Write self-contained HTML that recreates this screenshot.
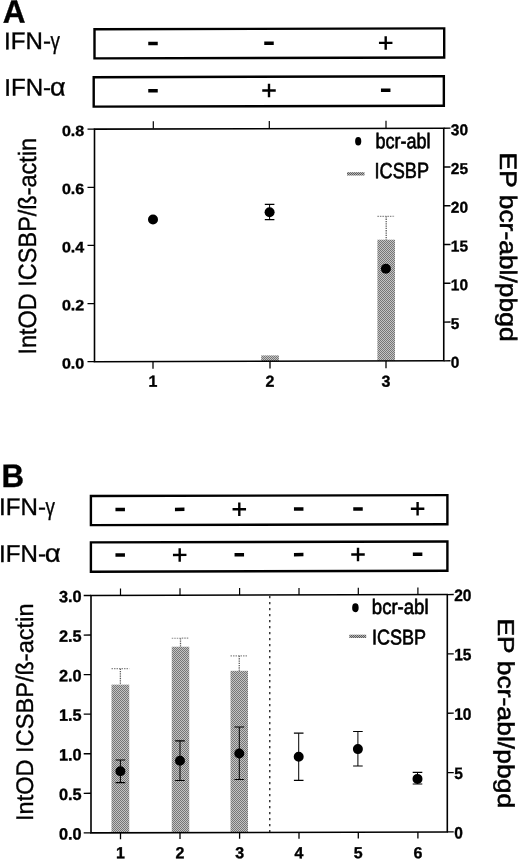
<!DOCTYPE html><html><head><meta charset="utf-8"><title>Figure</title><style>html,body{margin:0;padding:0;background:#fff}svg{display:block}text{font-family:"Liberation Sans",sans-serif;fill:#000;stroke:#000;stroke-width:.35px}.b{font-weight:bold}.l{stroke-width:.65px}.r{stroke-width:.55px}</style></head><body>
<svg width="520" height="860" viewBox="0 0 520 860">
<defs><pattern id="h" width="2" height="2" patternUnits="userSpaceOnUse"><rect width="2" height="2" fill="#c4c4c4"/><rect width="1" height="1" fill="#767676"/><rect x="1" y="1" width="1" height="1" fill="#767676"/></pattern><pattern id="h2" width="2" height="2" patternUnits="userSpaceOnUse"><rect width="2" height="2" fill="#b4b4b4"/><rect width="1" height="1" fill="#5c5c5c"/><rect x="1" y="1" width="1" height="1" fill="#5c5c5c"/></pattern></defs>
<rect width="520" height="860" fill="#fff"/>
<rect x="261.2" y="355.39" width="17.7" height="5.8" fill="url(#h)"/>
<rect x="377.4" y="239.69" width="17.6" height="121.2" fill="url(#h)"/>
<rect x="347" y="172.2" width="17.5" height="3.3" fill="url(#h2)"/>
<rect x="111.5" y="684.63" width="17.75" height="148.15" fill="url(#h)"/>
<rect x="171.75" y="646.73" width="17.5" height="185.9" fill="url(#h)"/>
<rect x="230.5" y="670.82" width="17.5" height="161.65" fill="url(#h)"/>
<rect x="349.3" y="634.7" width="16.9" height="3.3" fill="url(#h2)"/>
<g transform="translate(0,0.7) skewY(-0.15)">
<text x="2.7" y="22.01" font-size="32.5" class="b" textLength="22.8" lengthAdjust="spacingAndGlyphs">A</text>
<text y="48.46" font-size="24.1"><tspan x="4.1">IFN-</tspan><tspan x="50.59" font-size="24.1" textLength="9.43" lengthAdjust="spacingAndGlyphs">γ</tspan></text>
<text y="94.96" font-size="24.1"><tspan x="4.25">IFN-</tspan><tspan x="50.07" font-size="25.2" textLength="15.61" lengthAdjust="spacingAndGlyphs">α</tspan></text>
<rect x="94.5" y="28.8" width="349.7" height="29.1" fill="none" stroke="#000" stroke-width="2.4"/>
<rect x="93.7" y="76.75" width="350.15" height="29.45" fill="none" stroke="#000" stroke-width="2.4"/>
<rect x="148.25" y="41.45" width="9.5" height="3.5" fill="#000"/>
<rect x="264.25" y="41.45" width="9.5" height="3.5" fill="#000"/>
<rect x="378.95" y="42" width="13.5" height="2.4" fill="#000"/><rect x="384.5" y="36.45" width="2.4" height="13.5" fill="#000"/>
<rect x="148.25" y="88.75" width="9.5" height="3.5" fill="#000"/>
<rect x="262.25" y="89.3" width="13.5" height="2.4" fill="#000"/><rect x="267.8" y="83.75" width="2.4" height="13.5" fill="#000"/>
<rect x="380.95" y="88.75" width="9.5" height="3.5" fill="#000"/>
<line x1="153.3" y1="121" x2="153.3" y2="128.3" stroke="#000" stroke-width="1.2" />
<line x1="269.3" y1="121" x2="269.3" y2="128.3" stroke="#000" stroke-width="1.2" />
<line x1="386" y1="121" x2="386" y2="128.3" stroke="#000" stroke-width="1.2" />
<line x1="386.2" y1="216.6" x2="386.2" y2="240" stroke="#5a5a5a" stroke-width="1.3" stroke-dasharray="1.3 1"/>
<line x1="377.4" y1="216.6" x2="395" y2="216.6" stroke="#8a8a8a" stroke-width="1.2" stroke-dasharray="1.5 1"/>
<rect x="94.5" y="128.7" width="349.25" height="232.55" fill="none" stroke="#000" stroke-width="1.6"/>
<line x1="87.5" y1="128.7" x2="94.5" y2="128.7" stroke="#000" stroke-width="1.3" />
<text x="84.2" y="135.4" font-size="14.8" class="b" text-anchor="end" textLength="22.3" lengthAdjust="spacingAndGlyphs">0.8</text>
<line x1="87.5" y1="186.84" x2="94.5" y2="186.84" stroke="#000" stroke-width="1.3" />
<text x="84.2" y="193.54" font-size="14.8" class="b" text-anchor="end" textLength="22.3" lengthAdjust="spacingAndGlyphs">0.6</text>
<line x1="87.5" y1="244.97" x2="94.5" y2="244.97" stroke="#000" stroke-width="1.3" />
<text x="84.2" y="251.67" font-size="14.8" class="b" text-anchor="end" textLength="22.3" lengthAdjust="spacingAndGlyphs">0.4</text>
<line x1="87.5" y1="303.11" x2="94.5" y2="303.11" stroke="#000" stroke-width="1.3" />
<text x="84.2" y="309.81" font-size="14.8" class="b" text-anchor="end" textLength="22.3" lengthAdjust="spacingAndGlyphs">0.2</text>
<line x1="87.5" y1="361.25" x2="94.5" y2="361.25" stroke="#000" stroke-width="1.3" />
<text x="84.2" y="367.95" font-size="14.8" class="b" text-anchor="end" textLength="22.3" lengthAdjust="spacingAndGlyphs">0.0</text>
<line x1="443.75" y1="128.7" x2="450.5" y2="128.7" stroke="#000" stroke-width="1.3" />
<text x="450.8" y="135.8" font-size="15.7" class="b" textLength="17.2" lengthAdjust="spacingAndGlyphs">30</text>
<line x1="443.75" y1="167.46" x2="450.5" y2="167.46" stroke="#000" stroke-width="1.3" />
<text x="450.8" y="174.56" font-size="15.7" class="b" textLength="17.2" lengthAdjust="spacingAndGlyphs">25</text>
<line x1="443.75" y1="206.22" x2="450.5" y2="206.22" stroke="#000" stroke-width="1.3" />
<text x="450.8" y="213.32" font-size="15.7" class="b" textLength="17.2" lengthAdjust="spacingAndGlyphs">20</text>
<line x1="443.75" y1="244.98" x2="450.5" y2="244.98" stroke="#000" stroke-width="1.3" />
<text x="450.8" y="252.08" font-size="15.7" class="b" textLength="17.2" lengthAdjust="spacingAndGlyphs">15</text>
<line x1="443.75" y1="283.73" x2="450.5" y2="283.73" stroke="#000" stroke-width="1.3" />
<text x="450.8" y="290.83" font-size="15.7" class="b" textLength="17.2" lengthAdjust="spacingAndGlyphs">10</text>
<line x1="443.75" y1="322.49" x2="450.5" y2="322.49" stroke="#000" stroke-width="1.3" />
<text x="450.8" y="329.59" font-size="15.7" class="b" textLength="8.6" lengthAdjust="spacingAndGlyphs">5</text>
<line x1="443.75" y1="361.25" x2="450.5" y2="361.25" stroke="#000" stroke-width="1.3" />
<text x="450.8" y="368.35" font-size="15.7" class="b" textLength="8.6" lengthAdjust="spacingAndGlyphs">0</text>
<line x1="153" y1="361.25" x2="153" y2="368.5" stroke="#000" stroke-width="1.3" />
<text x="153" y="386.4" font-size="16" class="b" text-anchor="middle">1</text>
<line x1="270" y1="361.25" x2="270" y2="368.5" stroke="#000" stroke-width="1.3" />
<text x="270" y="386.71" font-size="16" class="b" text-anchor="middle">2</text>
<line x1="386" y1="361.25" x2="386" y2="368.5" stroke="#000" stroke-width="1.3" />
<text x="386" y="387.01" font-size="16" class="b" text-anchor="middle">3</text>
<circle cx="153" cy="219.2" r="5" fill="#000"/>
<line x1="269.6" y1="204.41" x2="269.6" y2="219.66" stroke="#000" stroke-width="1" />
<line x1="264.8" y1="204.41" x2="274.4" y2="204.41" stroke="#000" stroke-width="1.2" />
<line x1="264.8" y1="219.66" x2="274.4" y2="219.66" stroke="#000" stroke-width="1.2" />
<circle cx="269.6" cy="212.31" r="5" fill="#000"/>
<circle cx="385.9" cy="269.11" r="5" fill="#000"/>
<ellipse cx="358.2" cy="141.5" rx="3.1" ry="4.25" fill="#000"/>
<text x="375.4" y="148.58" font-size="21.3" class="l" textLength="55.2" lengthAdjust="spacingAndGlyphs">bcr-abl</text>
<text x="374.5" y="178.48" font-size="22" class="l" textLength="54.5" lengthAdjust="spacingAndGlyphs">ICSBP</text>
<text x="35.9" y="353.99" font-size="25" textLength="216.8" lengthAdjust="spacingAndGlyphs" transform="rotate(-90 35.9 353.99)">IntOD ICSBP/ß-actin</text>
<text x="500.1" y="153.21" font-size="23.8" class="r" textLength="189" lengthAdjust="spacingAndGlyphs" transform="rotate(90 500.1 153.21)">EP bcr-abl/pbgd</text>
<text x="1.4" y="486.2" font-size="32.5" class="b" textLength="22.6" lengthAdjust="spacingAndGlyphs">B</text>
<text y="514.4" font-size="24.1"><tspan x="-0.9">IFN-</tspan><tspan x="45.59" font-size="24.1" textLength="9.43" lengthAdjust="spacingAndGlyphs">γ</tspan></text>
<text y="561.2" font-size="24.1"><tspan x="-0.9">IFN-</tspan><tspan x="44.74" font-size="25.2" textLength="15.95" lengthAdjust="spacingAndGlyphs">α</tspan></text>
<rect x="90.9" y="495.55" width="356.5" height="29.1" fill="none" stroke="#000" stroke-width="2.4"/>
<rect x="90.9" y="541.95" width="356.5" height="29.3" fill="none" stroke="#000" stroke-width="2.4"/>
<rect x="115.45" y="507.4" width="9.5" height="3.5" fill="#000"/>
<rect x="174.95" y="507.4" width="9.5" height="3.5" fill="#000"/>
<rect x="232.55" y="507.95" width="13.5" height="2.4" fill="#000"/><rect x="238.1" y="502.4" width="2.4" height="13.5" fill="#000"/>
<rect x="293.95" y="507.4" width="9.5" height="3.5" fill="#000"/>
<rect x="353.25" y="507.4" width="9.5" height="3.5" fill="#000"/>
<rect x="410.85" y="507.95" width="13.5" height="2.4" fill="#000"/><rect x="416.4" y="502.4" width="2.4" height="13.5" fill="#000"/>
<rect x="115.45" y="552.95" width="9.5" height="3.5" fill="#000"/>
<rect x="172.95" y="553.5" width="13.5" height="2.4" fill="#000"/><rect x="178.5" y="547.95" width="2.4" height="13.5" fill="#000"/>
<rect x="234.55" y="552.95" width="9.5" height="3.5" fill="#000"/>
<rect x="293.95" y="552.95" width="9.5" height="3.5" fill="#000"/>
<rect x="351.25" y="553.5" width="13.5" height="2.4" fill="#000"/><rect x="356.8" y="547.95" width="2.4" height="13.5" fill="#000"/>
<rect x="412.85" y="552.95" width="9.5" height="3.5" fill="#000"/>
<line x1="120.5" y1="588" x2="120.5" y2="595" stroke="#000" stroke-width="1.2" />
<line x1="180" y1="588" x2="180" y2="595" stroke="#000" stroke-width="1.2" />
<line x1="239.6" y1="588" x2="239.6" y2="595" stroke="#000" stroke-width="1.2" />
<line x1="299" y1="588" x2="299" y2="595" stroke="#000" stroke-width="1.2" />
<line x1="358.3" y1="588" x2="358.3" y2="595" stroke="#000" stroke-width="1.2" />
<line x1="417.9" y1="588" x2="417.9" y2="595" stroke="#000" stroke-width="1.2" />
<line x1="120.38" y1="668.25" x2="120.38" y2="684.25" stroke="#5a5a5a" stroke-width="1.3" stroke-dasharray="1.3 1"/>
<line x1="111.5" y1="668.25" x2="129.25" y2="668.25" stroke="#8a8a8a" stroke-width="1.2" stroke-dasharray="1.5 1"/>
<line x1="180.5" y1="638" x2="180.5" y2="646.5" stroke="#5a5a5a" stroke-width="1.3" stroke-dasharray="1.3 1"/>
<line x1="171.75" y1="638" x2="189.25" y2="638" stroke="#8a8a8a" stroke-width="1.2" stroke-dasharray="1.5 1"/>
<line x1="239.25" y1="655.75" x2="239.25" y2="670.75" stroke="#5a5a5a" stroke-width="1.3" stroke-dasharray="1.3 1"/>
<line x1="230.5" y1="655.75" x2="248" y2="655.75" stroke="#8a8a8a" stroke-width="1.2" stroke-dasharray="1.5 1"/>
<line x1="269.8" y1="596" x2="269.8" y2="832.4" stroke="#000" stroke-width="1.15" stroke-dasharray="2.3 3.7"/>
<rect x="91" y="595" width="356.3" height="237.39999999999998" fill="none" stroke="#000" stroke-width="1.6"/>
<line x1="83.7" y1="595" x2="91" y2="595" stroke="#000" stroke-width="1.35" />
<text x="81.6" y="601.6" font-size="16.3" class="b" text-anchor="end" textLength="22.7" lengthAdjust="spacingAndGlyphs">3.0</text>
<line x1="83.7" y1="634.57" x2="91" y2="634.57" stroke="#000" stroke-width="1.35" />
<text x="81.6" y="641.17" font-size="16.3" class="b" text-anchor="end" textLength="22.7" lengthAdjust="spacingAndGlyphs">2.5</text>
<line x1="83.7" y1="674.13" x2="91" y2="674.13" stroke="#000" stroke-width="1.35" />
<text x="81.6" y="680.73" font-size="16.3" class="b" text-anchor="end" textLength="22.7" lengthAdjust="spacingAndGlyphs">2.0</text>
<line x1="83.7" y1="713.7" x2="91" y2="713.7" stroke="#000" stroke-width="1.35" />
<text x="81.6" y="720.3" font-size="16.3" class="b" text-anchor="end" textLength="22.7" lengthAdjust="spacingAndGlyphs">1.5</text>
<line x1="83.7" y1="753.27" x2="91" y2="753.27" stroke="#000" stroke-width="1.35" />
<text x="81.6" y="759.87" font-size="16.3" class="b" text-anchor="end" textLength="22.7" lengthAdjust="spacingAndGlyphs">1.0</text>
<line x1="83.7" y1="792.83" x2="91" y2="792.83" stroke="#000" stroke-width="1.35" />
<text x="81.6" y="799.43" font-size="16.3" class="b" text-anchor="end" textLength="22.7" lengthAdjust="spacingAndGlyphs">0.5</text>
<line x1="83.7" y1="832.4" x2="91" y2="832.4" stroke="#000" stroke-width="1.35" />
<text x="81.6" y="839" font-size="16.3" class="b" text-anchor="end" textLength="22.7" lengthAdjust="spacingAndGlyphs">0.0</text>
<line x1="447.3" y1="595" x2="453.75" y2="595" stroke="#000" stroke-width="1.3" />
<text x="454.2" y="601.5" font-size="16.5" class="b" textLength="17.3" lengthAdjust="spacingAndGlyphs">20</text>
<line x1="447.3" y1="654.35" x2="453.75" y2="654.35" stroke="#000" stroke-width="1.3" />
<text x="454.2" y="660.85" font-size="16.5" class="b" textLength="17.3" lengthAdjust="spacingAndGlyphs">15</text>
<line x1="447.3" y1="713.7" x2="453.75" y2="713.7" stroke="#000" stroke-width="1.3" />
<text x="454.2" y="720.2" font-size="16.5" class="b" textLength="17.3" lengthAdjust="spacingAndGlyphs">10</text>
<line x1="447.3" y1="773.05" x2="453.75" y2="773.05" stroke="#000" stroke-width="1.3" />
<text x="454.2" y="779.55" font-size="16.5" class="b" textLength="8.65" lengthAdjust="spacingAndGlyphs">5</text>
<line x1="447.3" y1="832.4" x2="453.75" y2="832.4" stroke="#000" stroke-width="1.3" />
<text x="454.2" y="838.9" font-size="16.5" class="b" textLength="8.65" lengthAdjust="spacingAndGlyphs">0</text>
<line x1="120.5" y1="832.4" x2="120.5" y2="838.8" stroke="#000" stroke-width="1.3" />
<text x="120.5" y="857.92" font-size="16" class="b" text-anchor="middle">1</text>
<line x1="180" y1="832.4" x2="180" y2="838.8" stroke="#000" stroke-width="1.3" />
<text x="180" y="858.07" font-size="16" class="b" text-anchor="middle">2</text>
<line x1="239.6" y1="832.4" x2="239.6" y2="838.8" stroke="#000" stroke-width="1.3" />
<text x="239.6" y="858.23" font-size="16" class="b" text-anchor="middle">3</text>
<line x1="299" y1="832.4" x2="299" y2="838.8" stroke="#000" stroke-width="1.3" />
<text x="299" y="858.38" font-size="16" class="b" text-anchor="middle">4</text>
<line x1="358.3" y1="832.4" x2="358.3" y2="838.8" stroke="#000" stroke-width="1.3" />
<text x="358.3" y="858.54" font-size="16" class="b" text-anchor="middle">5</text>
<line x1="417.9" y1="832.4" x2="417.9" y2="838.8" stroke="#000" stroke-width="1.3" />
<text x="417.9" y="858.69" font-size="16" class="b" text-anchor="middle">6</text>
<line x1="120.4" y1="759.62" x2="120.4" y2="782.22" stroke="#000" stroke-width="1" />
<line x1="115.6" y1="759.62" x2="125.2" y2="759.62" stroke="#000" stroke-width="1.2" />
<line x1="115.6" y1="782.22" x2="125.2" y2="782.22" stroke="#000" stroke-width="1.2" />
<circle cx="120.4" cy="770.92" r="5" fill="#000"/>
<line x1="180" y1="740.57" x2="180" y2="780.27" stroke="#000" stroke-width="1" />
<line x1="175.2" y1="740.57" x2="184.8" y2="740.57" stroke="#000" stroke-width="1.2" />
<line x1="175.2" y1="780.27" x2="184.8" y2="780.27" stroke="#000" stroke-width="1.2" />
<circle cx="180" cy="760.57" r="5" fill="#000"/>
<line x1="239.3" y1="726.93" x2="239.3" y2="779.43" stroke="#000" stroke-width="1" />
<line x1="234.5" y1="726.93" x2="244.1" y2="726.93" stroke="#000" stroke-width="1.2" />
<line x1="234.5" y1="779.43" x2="244.1" y2="779.43" stroke="#000" stroke-width="1.2" />
<circle cx="239.3" cy="753.43" r="5" fill="#000"/>
<line x1="298.7" y1="733.28" x2="298.7" y2="780.38" stroke="#000" stroke-width="1" />
<line x1="293.9" y1="733.28" x2="303.5" y2="733.28" stroke="#000" stroke-width="1.2" />
<line x1="293.9" y1="780.38" x2="303.5" y2="780.38" stroke="#000" stroke-width="1.2" />
<circle cx="298.7" cy="756.78" r="5" fill="#000"/>
<line x1="357.9" y1="731.74" x2="357.9" y2="766.24" stroke="#000" stroke-width="1" />
<line x1="353.1" y1="731.74" x2="362.7" y2="731.74" stroke="#000" stroke-width="1.2" />
<line x1="353.1" y1="766.24" x2="362.7" y2="766.24" stroke="#000" stroke-width="1.2" />
<circle cx="357.9" cy="749.34" r="5" fill="#000"/>
<line x1="417.5" y1="772.69" x2="417.5" y2="784.39" stroke="#000" stroke-width="1" />
<line x1="412.7" y1="772.69" x2="422.3" y2="772.69" stroke="#000" stroke-width="1.2" />
<line x1="412.7" y1="784.39" x2="422.3" y2="784.39" stroke="#000" stroke-width="1.2" />
<circle cx="417.5" cy="779.29" r="5" fill="#000"/>
<ellipse cx="355.4" cy="608" rx="3.25" ry="4.4" fill="#000"/>
<text x="371.8" y="614.37" font-size="21" class="l" textLength="56.8" lengthAdjust="spacingAndGlyphs">bcr-abl</text>
<text x="371.9" y="644.77" font-size="21.3" class="l" textLength="54.1" lengthAdjust="spacingAndGlyphs">ICSBP</text>
<text x="32.6" y="820.39" font-size="24" textLength="217.5" lengthAdjust="spacingAndGlyphs" transform="rotate(-90 32.6 820.39)">IntOD ICSBP/ß-actin</text>
<text x="497.9" y="619" font-size="23" class="r" textLength="189.8" lengthAdjust="spacingAndGlyphs" transform="rotate(90 497.9 619)">EP bcr-abl/pbgd</text>
</g></svg></body></html>
